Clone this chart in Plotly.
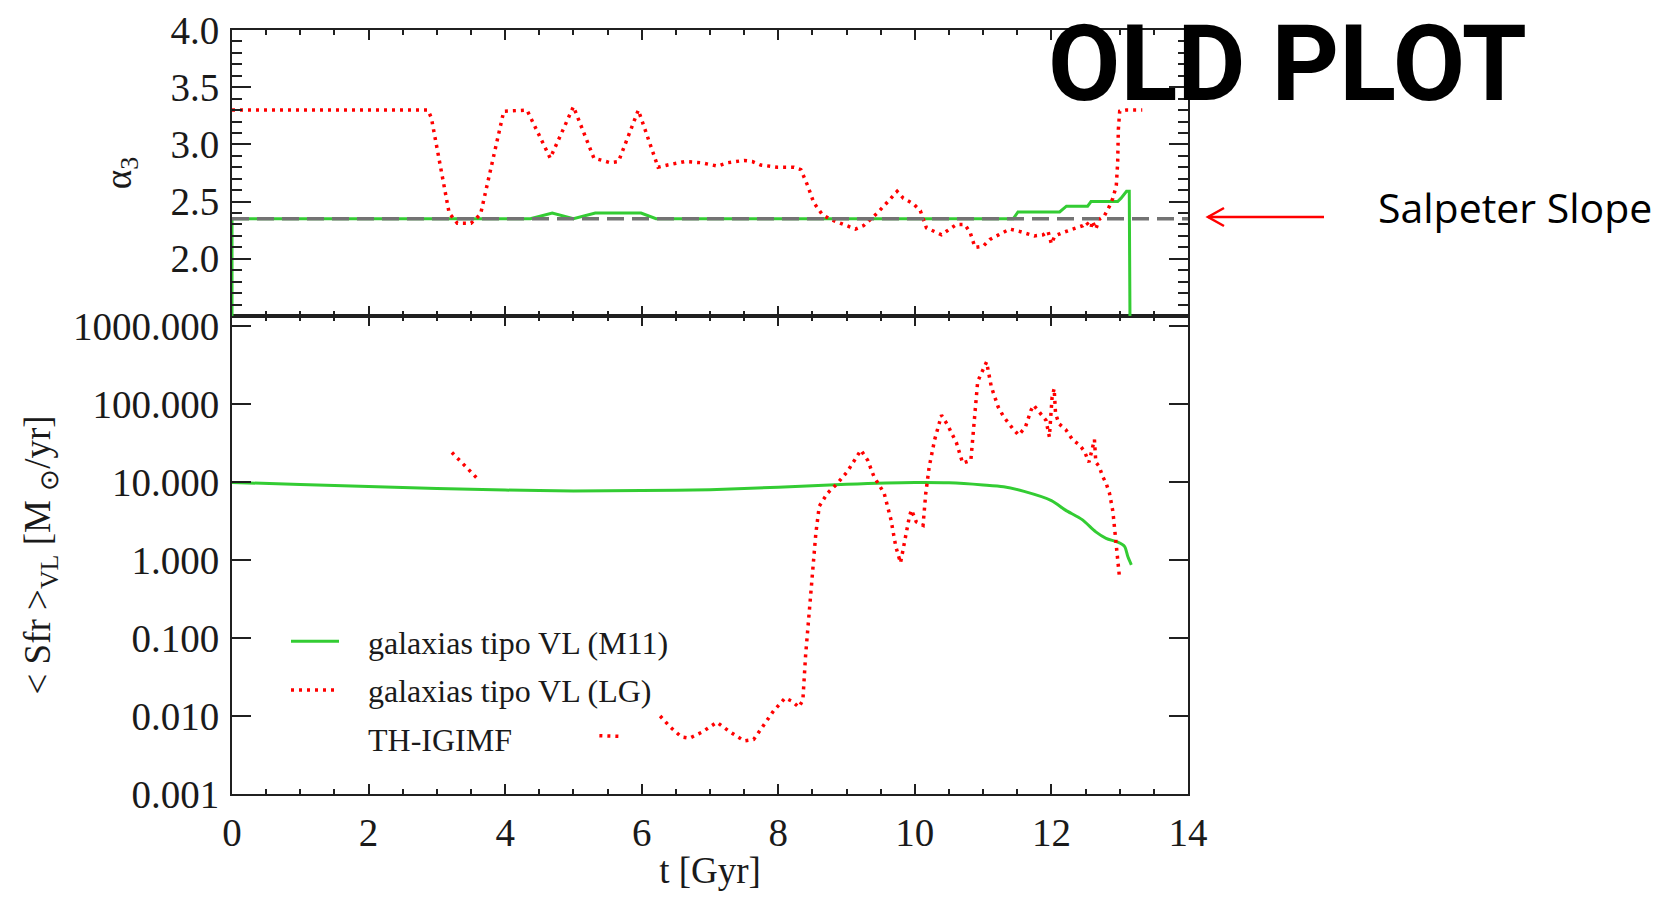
import plotly.graph_objects as go

# ---------------- data ----------------
# Top panel: alpha_3 vs time
alpha_m11_t = [0, 0, 4.37, 4.69, 5.00, 5.32, 5.99, 6.21, 11.44, 11.51, 12.12, 12.22,
               12.53, 12.58, 12.97, 13.02, 13.10, 13.14, 13.15]
alpha_m11 = [1.5, 2.35, 2.35, 2.40, 2.35, 2.40, 2.40, 2.35, 2.35, 2.41, 2.41, 2.46,
             2.46, 2.50, 2.50, 2.53, 2.59, 2.59, 1.5]

alpha_lg_t = [0, 2.87, 2.92, 3.18, 3.30, 3.50, 3.64, 3.98, 4.32, 4.66, 5.00, 5.30, 5.54,
              5.66, 5.95, 6.24, 6.38, 6.63, 6.87, 7.11, 7.26, 7.50, 7.62, 7.74, 7.99,
              8.23, 8.33, 8.43, 8.52, 8.64, 8.76, 8.86, 9.01, 9.13, 9.25, 9.45, 9.59,
              9.74, 9.83, 9.98, 10.08, 10.17, 10.32, 10.39, 10.51, 10.61, 10.73, 10.81,
              10.88, 11.00, 11.10, 11.24, 11.39, 11.53, 11.68, 11.75, 11.88, 11.95,
              12.00, 12.05, 12.17, 12.31, 12.46, 12.51, 12.58, 12.60, 12.65, 12.70,
              12.77, 12.85, 12.90, 12.95, 12.97, 12.98, 13.00, 13.10, 13.33]
alpha_lg = [3.30, 3.30, 3.23, 2.40, 2.31, 2.31, 2.39, 3.29, 3.30, 2.88, 3.33, 2.88, 2.84,
            2.85, 3.30, 2.80, 2.82, 2.85, 2.84, 2.81, 2.84, 2.86, 2.85, 2.82, 2.80,
            2.80, 2.78, 2.64, 2.49, 2.39, 2.345, 2.32, 2.29, 2.26, 2.29, 2.40, 2.49,
            2.59, 2.53, 2.48, 2.42, 2.27, 2.23, 2.21, 2.26, 2.30, 2.30, 2.23,
            2.10, 2.11, 2.17, 2.21, 2.26, 2.24, 2.21, 2.20, 2.21, 2.24,
            2.13, 2.20, 2.23, 2.26, 2.29, 2.32, 2.27, 2.33, 2.26, 2.345,
            2.37, 2.46, 2.53, 2.64, 2.84, 3.13, 3.29, 3.30, 3.30]

salpeter_slope = 2.35
t_limits = [0, 14]

# Bottom panel: star formation rate vs time
sfr_m11_t = [0, 1, 2, 3, 4, 5, 6, 7, 8, 9, 10, 10.5, 11, 11.3, 11.6, 12.0, 12.2,
             12.45, 12.65, 12.8, 12.97, 13.07, 13.12, 13.17]
sfr_m11 = [9.9, 9.3, 8.8, 8.3, 7.9, 7.7, 7.8, 8.0, 8.6, 9.4, 9.9, 9.8, 9.2, 8.7, 7.6,
           5.8, 4.4, 3.3, 2.3, 1.9, 1.7, 1.5, 1.1, 0.87]

sfr_lg_t = [3.22, 3.62, None,
            5.38, 5.66, None,
            6.27, 6.42, 6.58, 6.70, 6.88, 7.10, 7.30, 7.50, 7.64, 7.79, 7.93, 8.10,
            8.20, 8.30, 8.36, 8.40, 8.45, 8.50, 8.55, 8.60, 8.72, 8.87, 9.01, 9.21,
            9.31, 9.40, 9.55, 9.65, 9.72, 9.79, 9.85, 9.92, 9.95, 10.02, 10.12, 10.16,
            10.21, 10.29, 10.39, 10.48, 10.61, 10.70, 10.82, 10.88, 10.92, 11.05,
            11.12, 11.22, 11.30, 11.43, 11.52, 11.62, 11.70, 11.74, 11.84, 11.92,
            11.97, 12.01, 12.04, 12.06, 12.11, 12.21, 12.31, 12.41, 12.48, 12.55,
            12.63, 12.65, 12.70, 12.75, 12.80, 12.85, 12.90, 12.92, 12.95, 12.97, 13.0]
sfr_lg = [24, 10.5, None,
          0.0056, 0.0055, None,
          0.010, 0.0072, 0.0054, 0.0052, 0.0062, 0.0083, 0.0062, 0.0048, 0.0050,
          0.0077, 0.0116, 0.017, 0.0155, 0.013, 0.016, 0.06, 0.2, 0.5, 2.2, 4.9,
          7.2, 9.7, 13.6, 25.7, 19, 11.8, 7.2, 3.3, 1.5, 0.92, 1.8, 3.6, 4.4, 3.1,
          2.8, 7.2, 15.7, 35, 72, 54, 31.7, 17.5, 19, 69, 195, 347, 166, 92, 69,
          49, 40, 51, 83, 97, 76, 62, 38, 123, 158, 76, 56, 47, 35, 30, 25, 18,
          35, 18, 15.8, 11.8, 9.7, 7.2, 4.2, 2.7, 1.5, 1.0, 0.56]

alpha_ticks = [2.0, 2.5, 3.0, 3.5, 4.0]
alpha_ticktext = ["2.0", "2.5", "3.0", "3.5", "4.0"]
sfr_ticks = [0.001, 0.01, 0.1, 1, 10, 100, 1000]
sfr_ticktext = ["0.001", "0.010", "0.100", "1.000", "10.000", "100.000", "1000.000"]
t_ticks = [0, 2, 4, 6, 8, 10, 12, 14]

names = ["galaxias tipo VL (M11)", "galaxias tipo VL (LG)", "TH-IGIMF"]

# ---------------- style ----------------
GREEN = "#33cc33"
RED = "#ff0000"
GRAY = "#737373"
AX = "#202020"
SERIF = "Liberation Serif"
PAD = "\u00a0\u00a0\u00a0"

W, H = 1668, 897
L, R, T, B = 232, 1188, 30, 794
SPLIT = 316


def px_x(p):
    return (p - L) / (R - L)


def px_y(p):
    return (B - p) / (B - T)


split_frac = px_y(SPLIT)

fig = go.Figure()

# top panel
fig.add_trace(go.Scatter(x=alpha_m11_t, y=alpha_m11, mode="lines", xaxis="x2", yaxis="y2",
                         line=dict(color=GREEN, width=3), showlegend=False))
fig.add_trace(go.Scatter(x=alpha_lg_t, y=alpha_lg, mode="lines", xaxis="x2", yaxis="y2",
                         line=dict(color=RED, width=3.5, dash="3px,5px"), showlegend=False))
fig.add_trace(go.Scatter(x=t_limits, y=[salpeter_slope, salpeter_slope], mode="lines",
                         xaxis="x2", yaxis="y2",
                         line=dict(color=GRAY, width=3.5, dash="17px,8px"), showlegend=False))

# bottom panel
fig.add_trace(go.Scatter(x=sfr_m11_t, y=sfr_m11, mode="lines", xaxis="x", yaxis="y",
                         name=PAD + names[0], legendgroup="a",
                         line=dict(color=GREEN, width=3, shape="spline", smoothing=0.8)))
fig.add_trace(go.Scatter(x=sfr_lg_t, y=sfr_lg, mode="lines", xaxis="x", yaxis="y",
                         name=PAD + names[1], legendgroup="b", connectgaps=False,
                         line=dict(color=RED, width=3.5, dash="3px,5px")))
fig.add_trace(go.Scatter(x=[None], y=[None], mode="lines", xaxis="x", yaxis="y",
                         name=PAD + names[2], legendgroup="c",
                         line=dict(color="rgba(0,0,0,0)", width=3)))

tickfont = dict(family=SERIF, size=39, color="#1a1a1a")
titlefont = dict(family=SERIF, size=37, color="#1a1a1a")

common_x = dict(range=t_limits, tickvals=t_ticks, ticks="inside", ticklen=10, tickwidth=2,
                tickcolor=AX, showline=True, linecolor=AX, linewidth=2, mirror="ticks",
                showgrid=False, zeroline=False,
                minor=dict(dtick=0.5, ticks="inside", ticklen=5, tickwidth=2, tickcolor=AX))

fig.update_layout(
    width=W, height=H,
    margin=dict(l=L, r=W - R, t=T, b=H - B, autoexpand=False),
    paper_bgcolor="white", plot_bgcolor="white",
    xaxis=dict(common_x, anchor="y", domain=[0, 1], tickfont=tickfont,
               ticklabelstandoff=3,
               title=dict(text="t [Gyr]", font=titlefont, standoff=4)),
    xaxis2=dict(common_x, anchor="y2", matches="x", showticklabels=False),
    yaxis=dict(type="log", range=[-3, 3.13], domain=[0, split_frac], anchor="x",
               tickvals=sfr_ticks, ticktext=sfr_ticktext, tickfont=tickfont,
               ticks="inside", ticklen=19, tickwidth=2, tickcolor=AX,
               showline=True, linecolor=AX, linewidth=2, mirror="ticks",
               showgrid=False, zeroline=False, ticklabelstandoff=3,
               title=dict(text="< Sfr ><sub>VL</sub> [M <sub>⊙</sub>/yr]",
                          font=titlefont, standoff=11)),
    yaxis2=dict(range=[1.5, 4.0], domain=[split_frac, 1], anchor="x2",
                tickvals=alpha_ticks, ticktext=alpha_ticktext, tickfont=tickfont,
                ticks="inside", ticklen=19, tickwidth=2, tickcolor=AX,
                showline=True, linecolor=AX, linewidth=2, mirror="ticks",
                showgrid=False, zeroline=False, ticklabelstandoff=3,
                minor=dict(dtick=0.1, ticks="inside", ticklen=10, tickwidth=2, tickcolor=AX),
                title=dict(text="α<sub>3</sub>", font=titlefont, standoff=28)),
    legend=dict(x=px_x(286), y=px_y(614), xanchor="left", yanchor="top",
                bgcolor="rgba(0,0,0,0)", borderwidth=0, traceorder="grouped",
                tracegroupgap=4, itemwidth=48,
                font=dict(family=SERIF, size=32, color="#1a1a1a")),
    showlegend=True,
)

# annotations
fig.add_annotation(text="OLD PLOT", xref="paper", yref="paper", x=px_x(1287), y=px_y(1),
                   xanchor="center", yanchor="top", showarrow=False,
                   font=dict(family="Roboto", size=105, color="black", weight=700))
fig.add_annotation(text="Salpeter Slope", xref="paper", yref="paper", x=px_x(1376),
                   y=px_y(207), xanchor="left", yanchor="middle", showarrow=False,
                   font=dict(family="Open Sans", size=41, color="black"))

# arrow pointing to the Salpeter line
fig.add_shape(type="line", xref="paper", yref="paper", x0=px_x(1324), y0=px_y(217),
              x1=px_x(1208), y1=px_y(217), line=dict(color=RED, width=2.5))
fig.add_shape(type="path", xref="paper", yref="paper",
              path=f"M {px_x(1224)},{px_y(208)} L {px_x(1208)},{px_y(217)} L {px_x(1224)},{px_y(226)}",
              line=dict(color=RED, width=2.5))

fig.write_html("out.html")
